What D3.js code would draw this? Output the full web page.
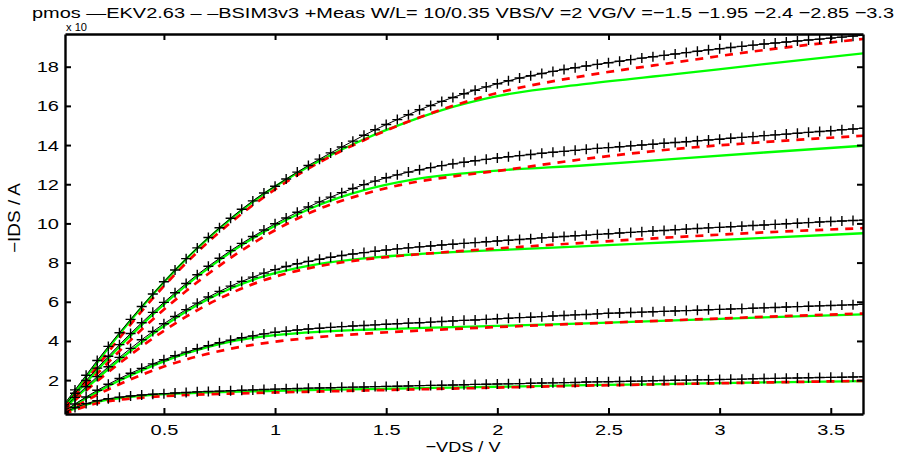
<!DOCTYPE html>
<html>
<head>
<meta charset="utf-8">
<script src="https://cdn.jsdelivr.net/npm/d3@7"></script>
<style>
  body { margin: 0; background: #fff; }
  text { font-family: "Liberation Sans", Arial, sans-serif; }
</style>
</head>
<body>
<div id="chart"></div>
<script>
// gate voltages, one curve each
const vgLabels = ["-1.5", "-1.95", "-2.4", "-2.85", "-3.3"];

// measured sweep: -VDS / V
const vdsMeas = [0.05,0.1,0.15,0.2,0.25,0.3,0.35,0.4,0.45,0.5,0.55,0.6,0.65,0.7,0.75,0.8,0.85,0.9,0.95,1.0,
  1.05,1.1,1.15,1.2,1.25,1.3,1.35,1.4,1.45,1.5,1.55,1.6,1.65,1.7,1.75,1.8,1.85,1.9,1.95,2.0,
  2.05,2.1,2.15,2.2,2.25,2.3,2.35,2.4,2.45,2.5,2.55,2.6,2.65,2.7,2.75,2.8,2.85,2.9,2.95,3.0,
  3.05,3.1,3.15,3.2,3.25,3.3,3.35,3.4,3.45,3.5,3.55,3.6,3.65];

// measured -IDS (x 1e-4 A)
const meas1 = [0.33,0.6,0.8,0.95,1.05,1.13,1.19,1.24,1.28,1.31,1.34,1.37,1.4,1.42,1.44,1.46,1.48,1.5,1.52,1.54,
  1.56,1.57,1.59,1.6,1.61,1.63,1.64,1.65,1.67,1.68,1.69,1.7,1.72,1.73,1.74,1.75,1.76,1.78,1.79,1.8,
  1.81,1.82,1.84,1.85,1.86,1.87,1.88,1.9,1.91,1.92,1.93,1.94,1.95,1.97,1.98,1.99,2.0,2.01,2.02,2.03,
  2.04,2.05,2.07,2.08,2.09,2.1,2.11,2.12,2.13,2.14,2.15,2.16,2.17];
const meas2 = [0.4,0.78,1.14,1.48,1.79,2.08,2.35,2.6,2.83,3.04,3.24,3.43,3.6,3.76,3.91,4.04,4.16,4.26,4.36,4.44,
  4.5,4.56,4.61,4.65,4.69,4.73,4.76,4.79,4.82,4.85,4.88,4.91,4.93,4.96,4.99,5.02,5.05,5.07,5.1,5.13,
  5.16,5.19,5.21,5.24,5.27,5.3,5.33,5.35,5.38,5.41,5.43,5.45,5.47,5.49,5.51,5.53,5.55,5.57,5.59,5.61,
  5.63,5.65,5.67,5.69,5.71,5.73,5.75,5.77,5.79,5.81,5.83,5.85,5.87];
const meas3 = [0.57,1.12,1.66,2.18,2.68,3.16,3.62,4.06,4.48,4.88,5.25,5.6,5.93,6.24,6.53,6.8,7.04,7.26,7.46,7.64,
  7.8,7.94,8.06,8.17,8.27,8.36,8.44,8.51,8.58,8.64,8.7,8.75,8.8,8.85,8.9,8.94,8.98,9.02,9.06,9.1,
  9.14,9.18,9.22,9.26,9.29,9.33,9.37,9.4,9.44,9.47,9.51,9.54,9.58,9.61,9.64,9.68,9.71,9.74,9.77,9.8,
  9.83,9.86,9.89,9.92,9.95,9.98,10.01,10.04,10.07,10.1,10.12,10.15,10.17];
const meas4 = [0.67,1.33,1.98,2.61,3.22,3.81,4.38,4.93,5.46,5.97,6.46,6.93,7.38,7.81,8.22,8.61,8.98,9.33,9.66,9.98,
  10.28,10.57,10.84,11.1,11.34,11.57,11.78,11.98,12.16,12.33,12.48,12.62,12.74,12.85,12.95,13.04,13.12,13.2,13.27,13.34,
  13.4,13.46,13.52,13.58,13.63,13.68,13.73,13.78,13.83,13.87,13.91,13.96,14.0,14.04,14.09,14.13,14.17,14.22,14.26,14.3,
  14.35,14.39,14.43,14.48,14.52,14.56,14.6,14.65,14.69,14.73,14.78,14.82,14.86];
const meas5 = [0.75,1.5,2.25,3.0,3.72,4.42,5.1,5.76,6.4,7.02,7.62,8.2,8.75,9.28,9.78,10.26,10.72,11.15,11.55,11.9,
  12.27,12.62,12.96,13.28,13.6,13.9,14.2,14.5,14.78,15.05,15.3,15.55,15.8,16.02,16.23,16.43,16.62,16.8,16.97,17.13,
  17.28,17.42,17.54,17.65,17.76,17.86,17.95,18.04,18.12,18.2,18.28,18.36,18.44,18.51,18.58,18.65,18.72,18.79,18.86,18.92,
  18.98,19.04,19.1,19.16,19.21,19.26,19.31,19.36,19.41,19.46,19.51,19.56,19.61];

// model sweep
const vdsModel = [0.05,0.1,0.15,0.2,0.3,0.4,0.5,0.6,0.7,0.8,0.9,1.0,1.2,1.4,1.6,1.8,2.0,2.4,2.8,3.2,3.65];

// EKV2.63 (solid green)
const ekv1 = [0.3,0.55,0.75,0.9,1.08,1.2,1.28,1.33,1.37,1.4,1.43,1.45,1.5,1.54,1.58,1.62,1.66,1.74,1.81,1.88,1.95];
const ekv2 = [0.37,0.73,1.07,1.39,1.98,2.5,2.96,3.36,3.7,3.97,4.16,4.3,4.47,4.57,4.64,4.71,4.77,4.9,5.05,5.2,5.36];
const ekv3 = [0.52,1.06,1.58,2.08,3.04,3.93,4.76,5.5,6.14,6.68,7.12,7.46,7.94,8.22,8.4,8.53,8.64,8.84,9.05,9.26,9.5];
const ekv4 = [0.6,1.25,1.88,2.5,3.7,4.82,5.87,6.84,7.72,8.52,9.24,9.88,10.95,11.7,12.2,12.5,12.7,12.97,13.3,13.62,13.97];
const ekv5 = [0.65,1.4,2.15,2.9,4.35,5.72,7.0,8.18,9.25,10.22,11.1,11.88,13.2,14.3,15.2,15.95,16.5,17.12,17.62,18.13,18.69];

// BSIM3v3 (dashed red)
const bsim1 = [0.25,0.48,0.67,0.82,1.0,1.1,1.18,1.24,1.28,1.31,1.34,1.37,1.42,1.47,1.52,1.57,1.62,1.72,1.8,1.88,1.96];
const bsim2 = [0.32,0.64,0.95,1.25,1.79,2.27,2.69,3.05,3.35,3.6,3.8,3.96,4.2,4.37,4.5,4.61,4.71,4.89,5.06,5.23,5.4];
const bsim3 = [0.45,0.97,1.47,1.95,2.86,3.72,4.52,5.24,5.88,6.43,6.9,7.28,7.82,8.16,8.38,8.56,8.72,9.02,9.3,9.54,9.76];
const bsim4 = [0.55,1.15,1.75,2.33,3.48,4.58,5.6,6.55,7.43,8.24,8.98,9.65,10.75,11.5,12.05,12.4,12.68,13.3,13.8,14.15,14.48];
const bsim5 = [0.55,1.25,1.98,2.7,4.15,5.52,6.8,7.98,9.06,10.04,10.93,11.74,13.12,14.25,15.2,16.0,16.66,17.55,18.22,18.85,19.42];

const xTicks = [0.5, 1, 1.5, 2, 2.5, 3, 3.5];
const yTicks = [2, 4, 6, 8, 10, 12, 14, 16, 18];

const measSets = [meas1, meas2, meas3, meas4, meas5];
const ekvSets = [ekv1, ekv2, ekv3, ekv4, ekv5];
const bsimSets = [bsim1, bsim2, bsim3, bsim4, bsim5];

const W = 907, H = 454;
const margin = { top: 34, right: 44, bottom: 40, left: 65 };
const width = W - margin.left - margin.right,
  height = H - margin.top - margin.bottom;

// the picture is a bit wider than tall, so glyphs are stretched sideways
const stretchK = 1.29;
function stretch(sel, k) {
  sel.each(function() {
    const len = this.getComputedTextLength();
    this.setAttribute("textLength", len * k);
    this.setAttribute("lengthAdjust", "spacingAndGlyphs");
  });
}

const svg = d3.select("#chart").append("svg")
  .attr("width", W).attr("height", H);

const g = svg.append("g")
  .attr("transform", "translate(" + margin.left + "," + margin.top + ")");

const x = d3.scaleLinear().domain([0.055, 3.645]).range([0, width]);
const y = d3.scaleLinear().domain([0.27, 19.67]).range([height, 0]);

// clip the curves to the axes box
g.append("defs").append("clipPath").attr("id", "clip")
  .append("rect").attr("width", width).attr("height", height);

const plot = g.append("g").attr("clip-path", "url(#clip)");

const modelLine = d3.line()
  .x(d => x(d[0])).y(d => y(d[1]))
  .curve(d3.curveMonotoneX);
const measLine = d3.line()
  .x(d => x(d[0])).y(d => y(d[1]));

// EKV solid green
ekvSets.forEach(vals => {
  plot.append("path")
    .datum(vdsModel.map((v, i) => [v, vals[i]]))
    .attr("fill", "none")
    .attr("stroke", "#00ff00")
    .attr("stroke-width", 2.3)
    .attr("d", modelLine);
});

// BSIM dashed red
bsimSets.forEach(vals => {
  plot.append("path")
    .datum(vdsModel.map((v, i) => [v, vals[i]]))
    .attr("fill", "none")
    .attr("stroke", "#ff0000")
    .attr("stroke-width", 2.7)
    .attr("stroke-dasharray", "8,7")
    .attr("d", modelLine);
});

// measured: thin line with + markers
measSets.forEach(vals => {
  const pts = vdsMeas.map((v, i) => [v, vals[i]]);
  plot.append("path")
    .datum(pts)
    .attr("fill", "none")
    .attr("stroke", "#000")
    .attr("stroke-width", 1)
    .attr("d", measLine);
  plot.selectAll(null)
    .data(pts)
    .enter()
    .append("path")
    .attr("transform", d => "translate(" + x(d[0]) + "," + y(d[1]) + ")")
    .attr("d", "M-5,0H5M0,-5V5")
    .attr("stroke", "#000")
    .attr("stroke-width", 1.4);
});

// axes, ticks pointing inward on all four sides
function styleAxis(sel) {
  sel.select(".domain").attr("stroke-width", 2.4);
  sel.selectAll(".tick line").attr("stroke-width", 2);
  sel.selectAll(".tick text")
    .style("font-size", "15.5px")
    .attr("fill", "#000")
    .call(stretch, stretchK);
}
g.append("g")
  .attr("transform", "translate(0," + height + ")")
  .call(d3.axisBottom(x).tickValues(xTicks).tickSizeInner(-6).tickSizeOuter(0).tickPadding(10).tickFormat(d3.format("")))
  .call(styleAxis);
g.append("g")
  .call(d3.axisTop(x).tickValues(xTicks).tickSizeInner(-6).tickSizeOuter(0).tickFormat(""))
  .call(styleAxis);
g.append("g")
  .call(d3.axisLeft(y).tickValues(yTicks).tickSizeInner(-6).tickSizeOuter(0).tickPadding(6))
  .call(styleAxis);
g.append("g")
  .attr("transform", "translate(" + width + ",0)")
  .call(d3.axisRight(y).tickValues(yTicks).tickSizeInner(-6).tickSizeOuter(0).tickFormat(""))
  .call(styleAxis);

// axis labels
svg.append("text")
  .attr("x", 463)
  .attr("y", 452)
  .attr("text-anchor", "middle")
  .style("font-size", "15.5px")
  .attr("textLength", 75)
  .attr("lengthAdjust", "spacingAndGlyphs")
  .text("\u2212VDS / V");
svg.append("text")
  .attr("transform", "translate(20,218) rotate(-90)")
  .attr("text-anchor", "middle")
  .style("font-size", "16px")
  .attr("textLength", 70)
  .attr("lengthAdjust", "spacingAndGlyphs")
  .text("\u2212IDS / A");

// exponent label, tucked between the title and the axes box
svg.append("text")
  .attr("x", 66).attr("y", 31)
  .style("font-size", "10.5px")
  .attr("textLength", 21)
  .attr("lengthAdjust", "spacingAndGlyphs")
  .text("x 10");

// title
svg.append("text")
  .attr("x", 463)
  .attr("y", 17.5)
  .attr("text-anchor", "middle")
  .style("font-size", "15.5px")
  .attr("textLength", 862)
  .attr("lengthAdjust", "spacingAndGlyphs")
  .text("pmos \u2014EKV2.63 \u2013 \u2013BSIM3v3 +Meas W/L= 10/0.35 VBS/V =2 VG/V =\u22121.5 \u22121.95 \u22122.4 \u22122.85 \u22123.3");
</script>
</body>
</html>
